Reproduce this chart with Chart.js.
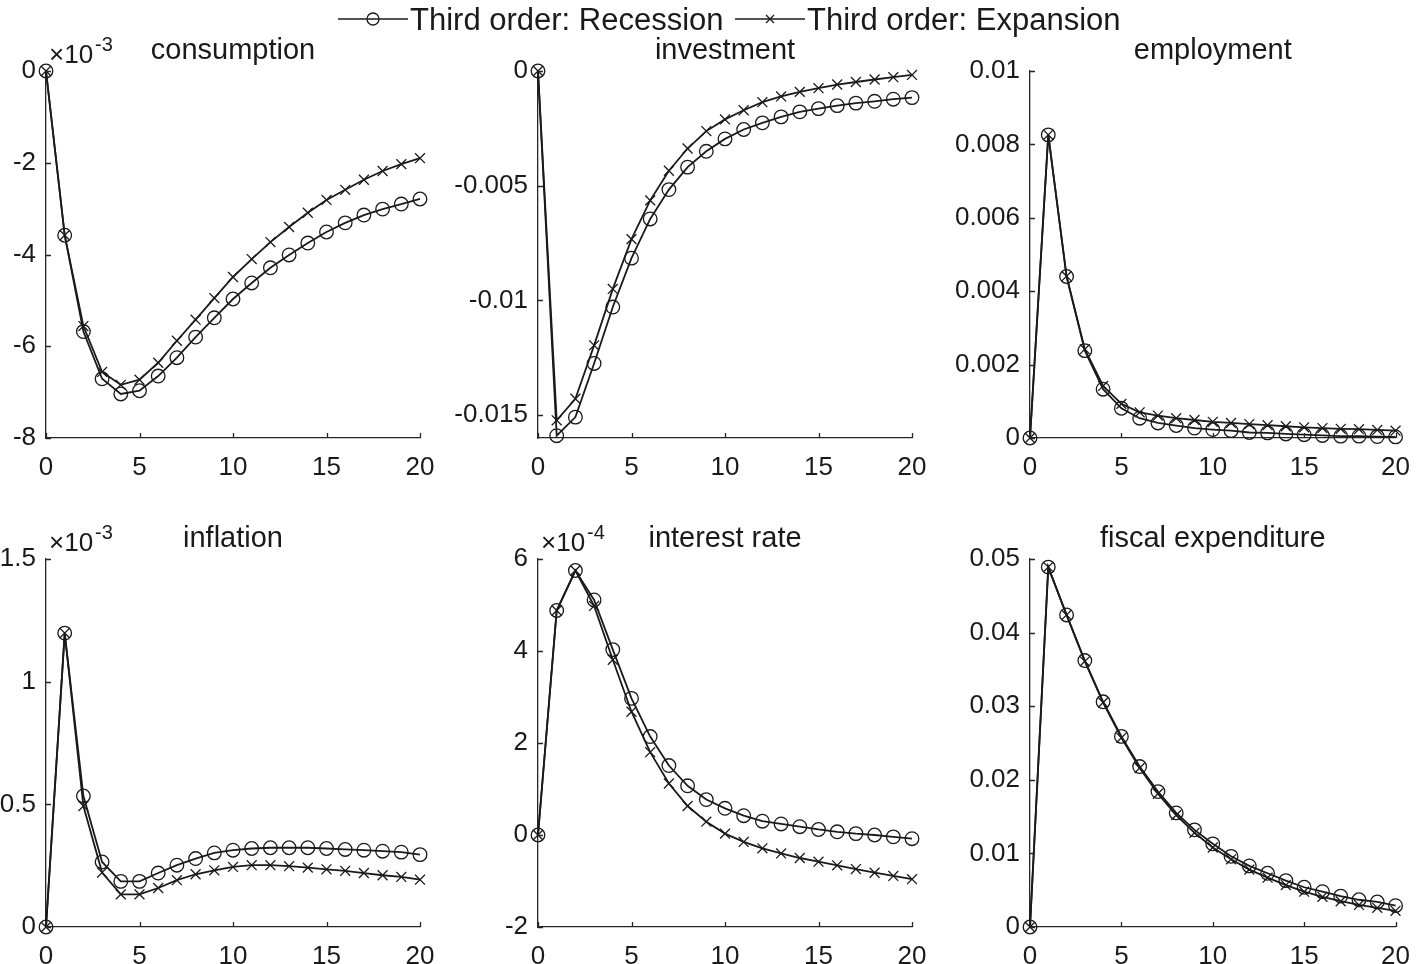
<!DOCTYPE html>
<html>
<head>
<meta charset="utf-8">
<title>Impulse responses: third order, recession vs expansion</title>
<script src="https://cdn.jsdelivr.net/npm/chart.js@4.4.0/dist/chart.umd.min.js"></script>
<style>
    body { margin: 0; background: #fff; }
    #figure {
        position: relative;
        width: 1424px;
        height: 964px;
        overflow: hidden;
        font-family: "Liberation Sans", Arial, sans-serif;
        color: #1a1a1a;
    }
    #figure canvas { position: absolute; left: 0; top: 0; }
    .legend-item {
        position: absolute;
        top: 2px;
        height: 36px;
        line-height: 36px;
        font-size: 31px;
        white-space: nowrap;
    }
    .legend-item svg { vertical-align: top; }
</style>
</head>
<body>
<div id="figure">
    <div class="legend-item" style="left:338px">
        <svg width="72" height="36"><line x1="0" y1="17" x2="70" y2="17" stroke="#1a1a1a" stroke-width="1.6"/><circle cx="35" cy="17" r="6" fill="none" stroke="#1a1a1a" stroke-width="1.3"/></svg><span>Third order: Recession</span>
    </div>
    <div class="legend-item" style="left:735px">
        <svg width="72" height="36"><line x1="0" y1="17" x2="70" y2="17" stroke="#1a1a1a" stroke-width="1.6"/><path d="M31 13 L39 21 M31 21 L39 13" stroke="#1a1a1a" stroke-width="1.3"/></svg><span>Third order: Expansion</span>
    </div>
</div>
<script>
// periods after the shock
const periods = [0, 1, 2, 3, 4, 5, 6, 7, 8, 9, 10, 11, 12, 13, 14, 15, 16, 17, 18, 19, 20];
const xTicks = [0, 5, 10, 15, 20];

// consumption (x 10^-3)
const consumptionRecession = [0, -3.58, -5.68, -6.71, -7.04, -6.97, -6.65, -6.25, -5.80, -5.38, -4.97, -4.62, -4.29, -4.01, -3.75, -3.51, -3.31, -3.14, -3.01, -2.90, -2.79];
const consumptionExpansion = [0, -3.58, -5.56, -6.56, -6.84, -6.73, -6.36, -5.88, -5.42, -4.95, -4.49, -4.10, -3.73, -3.40, -3.09, -2.81, -2.59, -2.37, -2.18, -2.03, -1.90];
const consumptionTicks = [-8, -6, -4, -2, 0];

// investment
const investmentRecession = [0, -0.0159, -0.01509, -0.01275, -0.01029, -0.00816, -0.00645, -0.00517, -0.00419, -0.00350, -0.00296, -0.00255, -0.00226, -0.00200, -0.00178, -0.00164, -0.00151, -0.00140, -0.00132, -0.00123, -0.00116];
const investmentExpansion = [0, -0.01523, -0.01429, -0.01196, -0.00950, -0.00733, -0.00564, -0.00435, -0.00338, -0.00262, -0.00211, -0.00171, -0.00136, -0.00111, -0.00091, -0.00075, -0.00059, -0.00048, -0.00037, -0.00027, -0.00017];
const investmentTicks = [-0.015, -0.01, -0.005, 0];

// employment
const employmentRecession = [0, 0.00826, 0.00440, 0.00238, 0.00133, 0.00081, 0.00054, 0.00041, 0.00034, 0.00027, 0.00023, 0.00020, 0.00015, 0.00014, 0.00011, 0.00009, 0.00007, 0.00005, 0.00005, 0.00004, 0.00003];
const employmentExpansion = [0, 0.00826, 0.00441, 0.00242, 0.00142, 0.00093, 0.00070, 0.00061, 0.00054, 0.00049, 0.00044, 0.00041, 0.00038, 0.00035, 0.00032, 0.00029, 0.00027, 0.00025, 0.00024, 0.00022, 0.00020];
const employmentTicks = [0, 0.002, 0.004, 0.006, 0.008, 0.01];

// inflation (x 10^-3)
const inflationRecession = [0, 1.198, 0.534, 0.265, 0.186, 0.186, 0.220, 0.252, 0.279, 0.302, 0.313, 0.320, 0.323, 0.323, 0.323, 0.320, 0.316, 0.313, 0.309, 0.305, 0.295];
const inflationExpansion = [0, 1.198, 0.493, 0.222, 0.133, 0.133, 0.159, 0.191, 0.215, 0.231, 0.245, 0.252, 0.252, 0.248, 0.242, 0.235, 0.229, 0.220, 0.211, 0.204, 0.193];
const inflationTicks = [0, 0.5, 1, 1.5];

// interest rate (x 10^-4)
const interestRecession = [0, 4.88, 5.75, 5.11, 4.03, 2.97, 2.14, 1.51, 1.07, 0.77, 0.58, 0.42, 0.30, 0.24, 0.18, 0.12, 0.07, 0.03, 0.00, -0.04, -0.08];
const interestExpansion = [0, 4.88, 5.75, 4.98, 3.81, 2.68, 1.80, 1.12, 0.63, 0.29, 0.03, -0.15, -0.29, -0.40, -0.50, -0.58, -0.66, -0.74, -0.82, -0.89, -0.96];
const interestTicks = [-2, 0, 2, 4, 6];

// fiscal expenditure
const fiscalRecession = [0, 0.0489, 0.0424, 0.0362, 0.0306, 0.0259, 0.0218, 0.0184, 0.0155, 0.0132, 0.0113, 0.0096, 0.0083, 0.0073, 0.0063, 0.0054, 0.0048, 0.0042, 0.0037, 0.0034, 0.0029];
const fiscalExpansion = [0, 0.0489, 0.0424, 0.0361, 0.0305, 0.0257, 0.0216, 0.0181, 0.0152, 0.0128, 0.0108, 0.0092, 0.0078, 0.0067, 0.0057, 0.0048, 0.0041, 0.0035, 0.0030, 0.0026, 0.0022];
const fiscalTicks = [0, 0.01, 0.02, 0.03, 0.04, 0.05];

const FONT = '"Liberation Sans", Arial, sans-serif';
const INK = '#1a1a1a';
const AXIS = '#262626';
const W = 1424, H = 964;

// matlab look: inward ticks, title over the axes, x10^n exponent at top left
const matlabAxes = {
    id: 'matlabAxes',
    afterDraw(chart, args, opts) {
        const { ctx, chartArea: a, scales: { x, y } } = chart;
        ctx.save();
        ctx.strokeStyle = AXIS;
        ctx.lineWidth = 1.3;
        ctx.beginPath();
        y.ticks.forEach(t => {
            const py = Math.round(y.getPixelForValue(t.value)) + 0.5;
            ctx.moveTo(a.left, py);
            ctx.lineTo(a.left + 5, py);
        });
        x.ticks.forEach(t => {
            const px = Math.round(x.getPixelForValue(t.value)) + 0.5;
            ctx.moveTo(px, a.bottom);
            ctx.lineTo(px, a.bottom - 5);
        });
        ctx.stroke();

        ctx.fillStyle = INK;
        ctx.textBaseline = 'alphabetic';
        ctx.textAlign = 'center';
        ctx.font = '29px ' + FONT;
        ctx.fillText(opts.title, (a.left + a.right) / 2, a.top - 12);

        if (opts.exponent) {
            ctx.textAlign = 'left';
            ctx.font = '26px ' + FONT;
            ctx.fillText('\u00d710', a.left + 3, a.top - 8);
            const w = ctx.measureText('\u00d710').width;
            ctx.font = '20px ' + FONT;
            ctx.fillText(opts.exponent, a.left + 5 + w, a.top - 20);
        }
        ctx.restore();
    }
};

const panels = [
    { title: 'consumption', exponent: '-3', rec: consumptionRecession, exp: consumptionExpansion, ticks: consumptionTicks, min: -8, max: 0, left: 46, top: 71, bottom: 438 },
    { title: 'investment', exponent: null, rec: investmentRecession, exp: investmentExpansion, ticks: investmentTicks, min: -0.016, max: 0, left: 538, top: 71, bottom: 438 },
    { title: 'employment', exponent: null, rec: employmentRecession, exp: employmentExpansion, ticks: employmentTicks, min: 0, max: 0.01, left: 1030, top: 71, bottom: 438 },
    { title: 'inflation', exponent: '-3', rec: inflationRecession, exp: inflationExpansion, ticks: inflationTicks, min: 0, max: 1.5, left: 46, top: 559, bottom: 927 },
    { title: 'interest rate', exponent: '-4', rec: interestRecession, exp: interestExpansion, ticks: interestTicks, min: -2, max: 6, left: 538, top: 559, bottom: 927 },
    { title: 'fiscal expenditure', exponent: null, rec: fiscalRecession, exp: fiscalExpansion, ticks: fiscalTicks, min: 0, max: 0.05, left: 1030, top: 559, bottom: 927 }
];
const PLOT_W = 374;

const toPoints = (values) => periods.map((t, i) => ({ x: t, y: values[i] }));

const figure = document.getElementById('figure');

panels.forEach(p => {
    const canvas = document.createElement('canvas');
    canvas.width = W;
    canvas.height = H;
    figure.insertBefore(canvas, figure.firstChild);

    new Chart(canvas, {
        type: 'line',
        data: {
            datasets: [{
                label: 'Third order: Recession',
                data: toPoints(p.rec),
                borderColor: INK,
                borderWidth: 1.8,
                pointStyle: 'circle',
                pointRadius: 6.8,
                pointBorderWidth: 1.3,
                pointBorderColor: INK,
                pointBackgroundColor: 'rgba(0,0,0,0)',
                tension: 0,
                clip: false
            }, {
                label: 'Third order: Expansion',
                data: toPoints(p.exp),
                borderColor: INK,
                borderWidth: 1.8,
                pointStyle: 'crossRot',
                pointRadius: 7,
                pointBorderWidth: 1.3,
                pointBorderColor: INK,
                pointBackgroundColor: 'rgba(0,0,0,0)',
                tension: 0,
                clip: false
            }]
        },
        options: {
            responsive: false,
            animation: false,
            devicePixelRatio: 1,
            events: [],
            // axis boxes reach the canvas edges so tick labels are never clipped
            layout: {
                padding: { left: 0, right: W - (p.left + PLOT_W), top: p.top, bottom: 0 }
            },
            plugins: {
                legend: { display: false },
                tooltip: { enabled: false },
                matlabAxes: { title: p.title, exponent: p.exponent }
            },
            scales: {
                x: {
                    type: 'linear',
                    min: 0,
                    max: 20,
                    afterBuildTicks: (scale) => { scale.ticks = xTicks.map(v => ({ value: v })); },
                    afterFit: (scale) => { scale.height = H - p.bottom; },
                    grid: { display: true, drawOnChartArea: false, drawTicks: false },
                    border: { display: true, color: AXIS, width: 1.3 },
                    ticks: {
                        color: INK,
                        padding: 14,
                        maxRotation: 0,
                        autoSkip: false,
                        font: { family: FONT, size: 26 },
                        callback: (v) => String(v)
                    }
                },
                y: {
                    type: 'linear',
                    min: p.min,
                    max: p.max,
                    afterBuildTicks: (scale) => { scale.ticks = p.ticks.map(v => ({ value: v })); },
                    afterFit: (scale) => { scale.width = p.left; },
                    grid: { display: true, drawOnChartArea: false, drawTicks: false },
                    border: { display: true, color: AXIS, width: 1.3 },
                    ticks: {
                        color: INK,
                        padding: 10,
                        autoSkip: false,
                        font: { family: FONT, size: 26 },
                        callback: (v) => String(v)
                    }
                }
            }
        },
        plugins: [matlabAxes]
    });
});
</script>
</body>
</html>
